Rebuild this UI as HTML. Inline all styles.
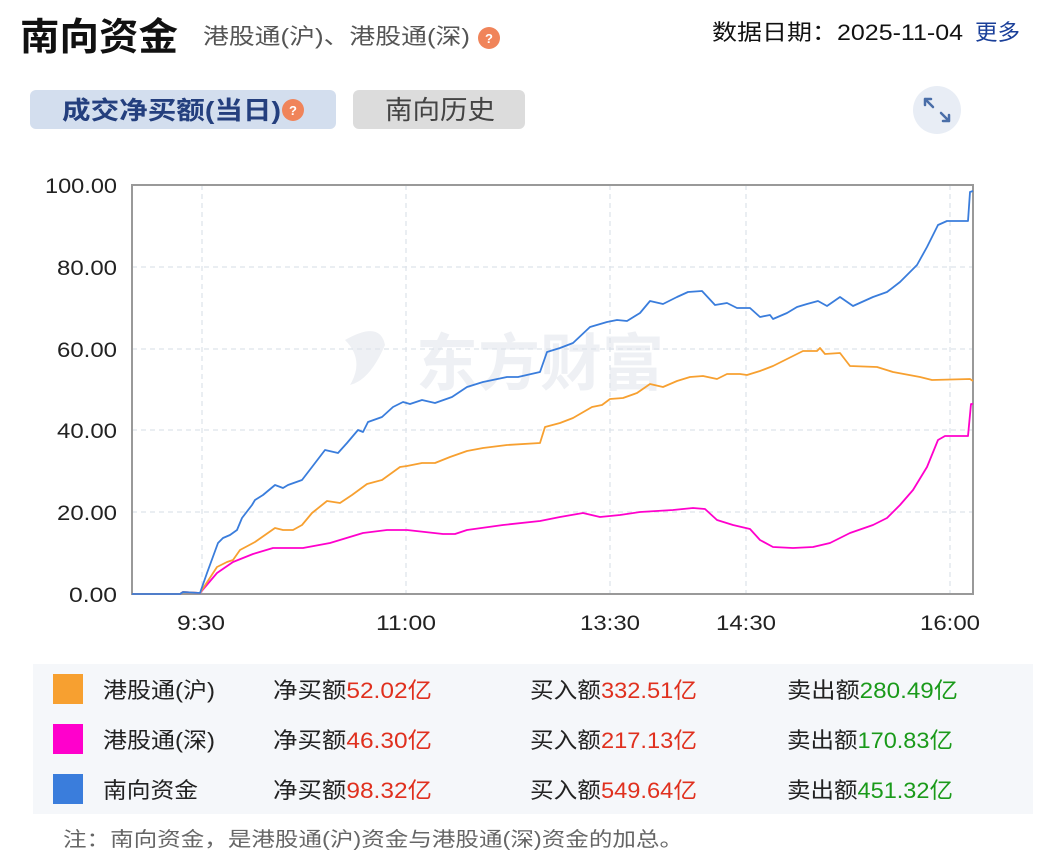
<!DOCTYPE html>
<html><head><meta charset="utf-8"><style>
html,body{margin:0;padding:0;background:#fff;}
svg{display:block;font-family:"Liberation Sans","Noto Sans CJK SC",sans-serif;}
</style></head><body>
<svg width="1038" height="860" viewBox="0 0 1038 860" xmlns="http://www.w3.org/2000/svg">
<rect width="1038" height="860" fill="#fff"/>
<text x="20" y="50" font-size="38" font-weight="bold" fill="#111" textLength="158" lengthAdjust="spacingAndGlyphs">南向资金</text>
<text x="203" y="44" font-size="22" fill="#555" textLength="267" lengthAdjust="spacingAndGlyphs">港股通(沪)、港股通(深)</text>
<circle cx="489" cy="38" r="11" fill="#f0845a"/>
<text x="489" y="43" font-size="13" fill="#fff" text-anchor="middle" font-weight="bold">?</text>
<text x="712" y="40" font-size="22" fill="#111" textLength="251" lengthAdjust="spacingAndGlyphs">数据日期：2025-11-04</text>
<text x="975" y="40" font-size="22" fill="#1a3f99" textLength="45" lengthAdjust="spacingAndGlyphs">更多</text>

<rect x="30" y="90" width="306" height="39" rx="6" fill="#d3deee"/>
<text x="62" y="119" font-size="25" font-weight="bold" fill="#243f7e" textLength="219" lengthAdjust="spacingAndGlyphs">成交净买额(当日)</text>
<circle cx="293" cy="110" r="11" fill="#f0845a"/>
<text x="293" y="115" font-size="13" fill="#fff" text-anchor="middle" font-weight="bold">?</text>
<rect x="353" y="90" width="172" height="39" rx="6" fill="#dcdcdc"/>
<text x="385" y="119" font-size="26" fill="#444" textLength="110" lengthAdjust="spacingAndGlyphs">南向历史</text>
<circle cx="937" cy="110" r="24" fill="#e8edf5"/>
<path d="M925 99 L933 107 M925 99 L925 105 M925 99 L931 99 M949 121 L941 113 M949 121 L949 115 M949 121 L943 121" stroke="#4a6ea8" stroke-width="2.5" fill="none" stroke-linecap="round"/>

<text x="540" y="385" font-size="62" font-weight="bold" fill="#eef0f4" text-anchor="middle">东方财富</text>
<path d="M345 340 Q380 320 385 345 Q370 380 350 385 Q365 360 345 340Z" fill="#eef0f4"/>

<g stroke="#dde3ea" stroke-width="1.2" stroke-dasharray="5,4">
<line x1="132" y1="267" x2="973" y2="267"/><line x1="132" y1="349" x2="973" y2="349"/>
<line x1="132" y1="430" x2="973" y2="430"/><line x1="132" y1="512" x2="973" y2="512"/>
<line x1="202" y1="185" x2="202" y2="594"/><line x1="406" y1="185" x2="406" y2="594"/>
<line x1="610" y1="185" x2="610" y2="594"/><line x1="746" y1="185" x2="746" y2="594"/>
<line x1="950" y1="185" x2="950" y2="594"/>
</g>
<rect x="132" y="185" width="841" height="409" fill="none" stroke="#999" stroke-width="2"/>
<g font-size="21" fill="#222">
<text x="45" y="193" textLength="72" lengthAdjust="spacingAndGlyphs">100.00</text>
<text x="57" y="275" textLength="60" lengthAdjust="spacingAndGlyphs">80.00</text>
<text x="57" y="357" textLength="60" lengthAdjust="spacingAndGlyphs">60.00</text>
<text x="57" y="438" textLength="60" lengthAdjust="spacingAndGlyphs">40.00</text>
<text x="57" y="520" textLength="60" lengthAdjust="spacingAndGlyphs">20.00</text>
<text x="69" y="602" textLength="48" lengthAdjust="spacingAndGlyphs">0.00</text>
</g>
<g font-size="21" fill="#222">
<text x="177" y="630" textLength="48" lengthAdjust="spacingAndGlyphs">9:30</text>
<text x="376" y="630" textLength="60" lengthAdjust="spacingAndGlyphs">11:00</text>
<text x="580" y="630" textLength="60" lengthAdjust="spacingAndGlyphs">13:30</text>
<text x="716" y="630" textLength="60" lengthAdjust="spacingAndGlyphs">14:30</text>
<text x="920" y="630" textLength="60" lengthAdjust="spacingAndGlyphs">16:00</text>
</g>
<g fill="none" stroke-width="1.8" stroke-linejoin="round">
<polyline stroke="#ff00cc" points="132,594 180,594 183,592 200,593 217,573 233,562 253,554 273,548 303,548 330,543 363,533 387,530 407,530 443,534 455,534 467,530 503,525 540,521 560,517 583,513 600,517 620,515 640,512 673,510 693,508 705,509 717,520 733,525 750,529 760,540 773,547 793,548 813,547 830,543 850,533 873,525 887,518 900,505 913,490 927,467 938,440 945,436 968,436 971,404 973,404"/>
<polyline stroke="#f7a030" points="132,594 180,594 183,592 200,593 217,567 227,562 233,560 240,550 255,542 275,528 283,530 293,530 302,525 312,513 327,501 340,503 352,495 367,484 382,480 400,467 407,466 422,463 435,463 450,457 467,451 483,448 507,445 540,443 545,427 560,423 573,418 592,407 602,405 610,399 623,398 637,393 650,384 663,387 677,381 690,377 703,376 717,379 727,374 740,374 747,375 760,371 773,366 787,359 803,351 817,351 820,348 825,354 840,353 850,366 877,367 893,372 920,377 932,380 970,379 973,381"/>
<polyline stroke="#3a7ddc" points="132,594 180,594 183,592 200,593 207,573 218,543 223,538 230,535 237,530 242,518 252,505 255,500 263,495 275,485 283,488 288,485 302,480 312,467 325,450 338,453 347,443 358,430 363,432 368,422 382,417 393,407 403,402 410,404 422,400 435,403 452,397 467,387 483,382 507,377 518,377 540,372 547,352 560,348 573,343 590,327 607,322 617,320 627,321 640,313 650,301 663,304 677,297 688,292 702,291 715,305 727,303 737,308 750,308 760,317 770,315 773,319 787,313 797,307 807,304 818,301 827,306 840,297 853,306 873,297 887,292 900,282 917,265 927,247 938,225 947,221 968,221 970,192 973,191"/>
</g>

<rect x="33" y="664" width="1000" height="150" fill="#f5f7fa"/>
<rect x="53" y="674" width="30" height="30" fill="#f7a030"/>
<rect x="53" y="724" width="30" height="30" fill="#ff00cc"/>
<rect x="53" y="774" width="30" height="30" fill="#3a7ddc"/>
<g font-size="22" fill="#222" lengthAdjust="spacingAndGlyphs">
<text x="103" y="698" textLength="112" lengthAdjust="spacingAndGlyphs">港股通(沪)</text>
<text x="103" y="748" textLength="112" lengthAdjust="spacingAndGlyphs">港股通(深)</text>
<text x="103" y="798" textLength="95" lengthAdjust="spacingAndGlyphs">南向资金</text>
<text x="273" y="698" textLength="159" lengthAdjust="spacingAndGlyphs">净买额<tspan fill="#e0301e">52.02亿</tspan></text>
<text x="273" y="748" textLength="159" lengthAdjust="spacingAndGlyphs">净买额<tspan fill="#e0301e">46.30亿</tspan></text>
<text x="273" y="798" textLength="159" lengthAdjust="spacingAndGlyphs">净买额<tspan fill="#e0301e">98.32亿</tspan></text>
<text x="530" y="698" textLength="167" lengthAdjust="spacingAndGlyphs">买入额<tspan fill="#e0301e">332.51亿</tspan></text>
<text x="530" y="748" textLength="167" lengthAdjust="spacingAndGlyphs">买入额<tspan fill="#e0301e">217.13亿</tspan></text>
<text x="530" y="798" textLength="167" lengthAdjust="spacingAndGlyphs">买入额<tspan fill="#e0301e">549.64亿</tspan></text>
<text x="787" y="698" textLength="171" lengthAdjust="spacingAndGlyphs">卖出额<tspan fill="#1a9a1a">280.49亿</tspan></text>
<text x="787" y="748" textLength="166" lengthAdjust="spacingAndGlyphs">卖出额<tspan fill="#1a9a1a">170.83亿</tspan></text>
<text x="787" y="798" textLength="166" lengthAdjust="spacingAndGlyphs">卖出额<tspan fill="#1a9a1a">451.32亿</tspan></text>
</g>
<text x="63" y="846" font-size="20" fill="#666" textLength="620" lengthAdjust="spacingAndGlyphs">注：南向资金，是港股通(沪)资金与港股通(深)资金的加总。</text>
</svg>
</body></html>
